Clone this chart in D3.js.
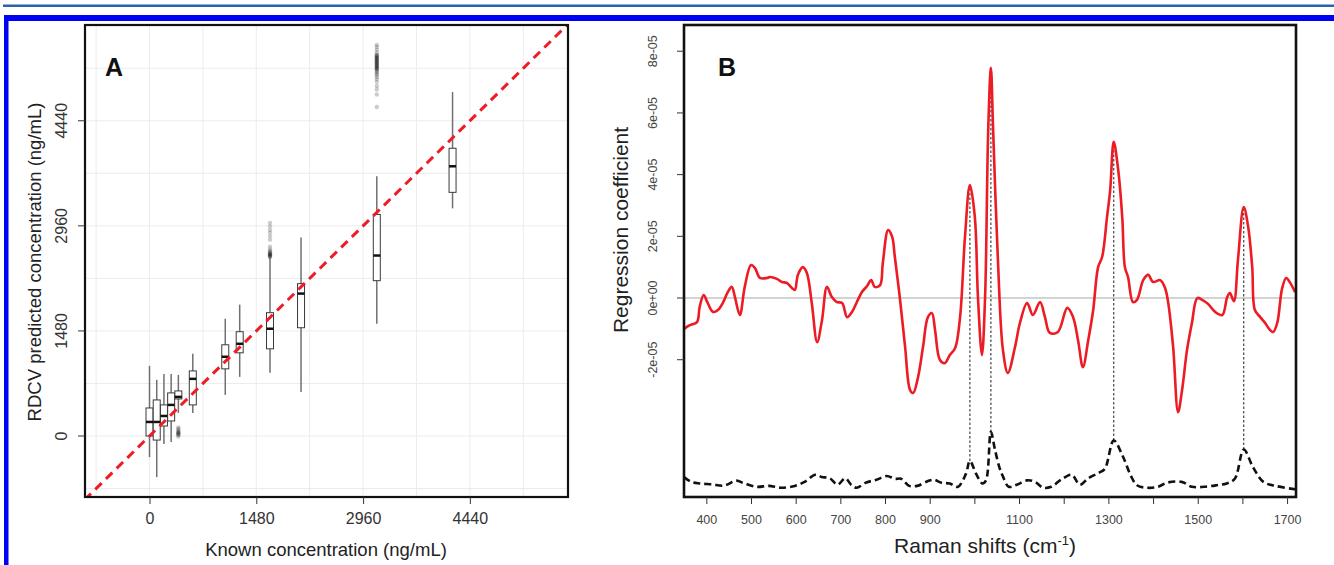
<!DOCTYPE html>
<html><head><meta charset="utf-8">
<script src="https://cdn.jsdelivr.net/npm/d3@7"></script>
<style>
body{margin:0;background:#fff}
svg{display:block;font-family:"Liberation Sans",Arial,Helvetica,sans-serif}
</style>
</head><body>
<svg id="fig" width="1334" height="565"></svg>
<script>
// ---------- Panel A: RDCV predictions per known concentration (ng/mL) ----------
const knownConc   = [0, 100, 200, 300, 400, 600, 1050, 1250, 1670, 2100, 3150, 4200];
const whiskerLow  = [-297, -579, -113, -85, 325, 325, 579, 833, 890, 621, 1582, 3206];
const quartile1   = [0, -57, 141, 212, 522, 438, 946, 1172, 1228, 1525, 2188, 3432];
const medianPred  = [198, 198, 282, 438, 551, 805, 1116, 1299, 1511, 2006, 2542, 3799];
const quartile3   = [395, 508, 438, 607, 635, 917, 1285, 1469, 1737, 2146, 3121, 4053];
const whiskerHigh = [988, 791, 875, 875, 861, 1158, 1652, 1850, 2511, 2796, 3657, 4844];
// outlying predictions, grouped by the known concentration they belong to
const outliers400  = [122, 102, 83, 63, 53, 43, 34, 24, 14, -6];
const outliers1670 = [3002, 2953, 2904, 2865, 2816, 2766, 2668, 2629, 2609, 2590, 2580, 2570, 2560, 2550, 2545, 2540, 2530, 2521];
const outliers3150 = [5509, 5479, 5440, 5401, 5370, 5362, 5350, 5342, 5330, 5322, 5310, 5303, 5290, 5283, 5270, 5263, 5250, 5244, 5230, 5224, 5210, 5204, 5190, 5185, 5170, 5165, 5145, 5126, 5106, 5086, 5057, 5027, 4988, 4929, 4880, 4811, 4634];
const axisTicksA = [0, 1480, 2960, 4440];
const gridStepA = 740;

// ---------- Panel B: regression coefficients vs Raman shift ----------
// coefficient values are in units of 1e-05
const coefShift = [350,363,379,385,394,403,415,426,437,448,457,464,475,486,500,509,520,536,542,558,569,580,592,598,605,616,625,636,648,659,670,681,692,704,715,726,737,748,760,769,777,789,795,807,816,822,833,845,856,863,874,885,896,905,912,923,934,945,957,968,979,990,1001,1008,1017,1024,1031,1037,1042,1053,1064,1075,1091,1102,1118,1131,1147,1158,1169,1187,1208,1221,1232,1243,1255,1266,1277,1286,1297,1304,1312,1322,1331,1337,1344,1355,1364,1378,1389,1400,1416,1427,1434,1445,1456,1465,1476,1487,1499,1510,1523,1539,1555,1566,1572,1581,1590,1603,1613,1622,1628,1640,1651,1662,1669,1678,1689,1698,1707,1718];
const coefValue = [-1.00,-0.88,-0.78,-0.29,0.10,-0.16,-0.45,-0.39,-0.16,0.19,0.36,0.03,-0.55,0.36,1.07,0.97,0.65,0.65,0.68,0.62,0.52,0.49,0.32,0.26,0.75,1.00,0.81,-0.16,-1.43,-0.71,0.36,0.03,-0.13,-0.16,-0.62,-0.45,-0.13,0.19,0.39,0.58,0.36,0.42,1.13,2.20,1.98,1.33,0.03,-1.59,-2.98,-3.08,-2.56,-1.59,-0.62,-0.49,-1.04,-2.01,-2.11,-1.85,-1.62,-0.62,1.98,3.66,2.63,0.03,-1.85,0.03,5.45,7.46,5.45,1.13,-1.69,-2.43,-1.59,-0.81,-0.16,-0.55,-0.13,-0.62,-1.13,-1.10,-0.32,-0.62,-1.36,-2.24,-1.36,-0.39,1.00,1.33,2.63,3.50,5.06,4.15,2.63,1.00,0.68,-0.13,-0.06,0.58,0.75,0.52,0.58,0.32,-0.16,-1.59,-3.70,-2.98,-1.69,-0.81,0.00,-0.06,-0.19,-0.45,-0.55,0.03,0.16,-0.10,1.23,2.95,2.30,1.00,-0.39,-0.62,-0.81,-1.04,-1.10,-0.81,0.32,0.65,0.49,0.19];
// reference Raman spectrum, scaled into the lower part of the same axis
const refShift = [350,365,385,412,440,467,485,513,540,567,598,620,644,658,676,694,711,724,736,758,781,804,822,836,854,872,895,909,927,945,963,981,990,1004,1018,1026,1037,1046,1056,1063,1077,1095,1118,1136,1154,1172,1195,1218,1236,1255,1278,1292,1312,1332,1350,1364,1387,1410,1433,1464,1487,1514,1542,1565,1583,1603,1624,1647,1674,1718];
const refValue = [-5.80,-5.95,-6.01,-6.04,-6.08,-5.92,-6.01,-6.12,-6.09,-6.15,-6.09,-5.96,-5.73,-5.80,-5.84,-6.05,-5.84,-6.05,-6.15,-5.98,-5.89,-5.77,-5.86,-5.86,-6.09,-6.09,-5.94,-5.89,-5.99,-6.01,-6.12,-5.70,-5.28,-5.70,-6.01,-5.91,-4.34,-4.91,-5.49,-5.75,-6.12,-6.05,-5.91,-5.96,-6.15,-6.12,-5.88,-5.73,-6.05,-5.84,-5.67,-5.54,-4.62,-5.12,-5.75,-6.07,-6.15,-6.12,-5.98,-5.96,-6.12,-6.12,-6.07,-6.01,-5.86,-4.91,-5.49,-5.96,-6.09,-6.20];
const peakShift = [990, 1037, 1312, 1603];
const xTicksB = [400,500,600,700,800,900,1000,1100,1200,1300,1400,1500,1600,1700];
const xLabelsB = [400,500,600,700,800,900,1100,1300,1500,1700];
const yTicksB = [-2, 0, 2, 4, 6, 8];

const svg = d3.select("#fig");

// page frame bars
svg.append("rect").attr("x", 3).attr("y", 4.5).attr("width", 1331).attr("height", 2.5).attr("fill", "#2a63a8");
svg.append("rect").attr("x", 4).attr("y", 15).attr("width", 1330).attr("height", 6).attr("fill", "#0000f5");
svg.append("rect").attr("x", 4).attr("y", 15).attr("width", 4.5).attr("height", 550).attr("fill", "#0000f5");

// =================== Panel A ===================
const A = {left: 85, right: 568, top: 25, bottom: 497};
const xA = d3.scaleLinear().domain([-894, 5800]).range([A.left, A.right]);
const yA = d3.scaleLinear().domain([-859, 5789]).range([A.bottom, A.top]);
const gA = svg.append("g");

svg.append("clipPath").attr("id", "clipA").append("rect")
  .attr("x", A.left).attr("y", A.top).attr("width", A.right - A.left).attr("height", A.bottom - A.top);

// light grid every 740 ng/mL
const gridA = d3.range(-740, 6000, gridStepA);
gA.append("g").selectAll("line").data(gridA.filter(v => xA(v) > A.left && xA(v) < A.right)).join("line")
  .attr("x1", d => xA(d)).attr("x2", d => xA(d)).attr("y1", A.top).attr("y2", A.bottom)
  .attr("stroke", "#ececec").attr("stroke-width", 1);
gA.append("g").selectAll("line").data(gridA.filter(v => yA(v) < A.bottom && yA(v) > A.top)).join("line")
  .attr("y1", d => yA(d)).attr("y2", d => yA(d)).attr("x1", A.left).attr("x2", A.right)
  .attr("stroke", "#ececec").attr("stroke-width", 1);

// boxplots
const boxW = 7;
const boxes = knownConc.map((c, i) => ({c, lo: whiskerLow[i], q1: quartile1[i], med: medianPred[i], q3: quartile3[i], hi: whiskerHigh[i]}));
const gBox = gA.append("g");
gBox.selectAll("line.wh").data(boxes).join("line").attr("class", "wh")
  .attr("x1", d => xA(d.c)).attr("x2", d => xA(d.c))
  .attr("y1", d => yA(d.hi)).attr("y2", d => yA(d.lo))
  .attr("stroke", "#707070").attr("stroke-width", 1.5);
gBox.selectAll("rect").data(boxes).join("rect")
  .attr("x", d => xA(d.c) - boxW / 2).attr("width", boxW)
  .attr("y", d => yA(d.q3)).attr("height", d => yA(d.q1) - yA(d.q3))
  .attr("fill", "#fff").attr("stroke", "#3a3a3a").attr("stroke-width", 1);
gBox.selectAll("line.md").data(boxes).join("line").attr("class", "md")
  .attr("x1", d => xA(d.c) - boxW / 2).attr("x2", d => xA(d.c) + boxW / 2)
  .attr("y1", d => yA(d.med)).attr("y2", d => yA(d.med))
  .attr("stroke", "#111").attr("stroke-width", 2.5);

// outliers
const outPts = [
  ...outliers400.map(v => ({c: 400, v})),
  ...outliers1670.map(v => ({c: 1670, v})),
  ...outliers3150.map(v => ({c: 3150, v}))
];
gA.append("g").selectAll("circle").data(outPts).join("circle")
  .attr("cx", d => xA(d.c)).attr("cy", d => yA(d.v)).attr("r", 2.2)
  .attr("fill", "#000").attr("fill-opacity", 0.2);

// identity line
gA.append("line").attr("clip-path", "url(#clipA)")
  .attr("x1", xA(-900)).attr("y1", yA(-900)).attr("x2", xA(6000)).attr("y2", yA(6000))
  .attr("stroke", "#ee1c25").attr("stroke-width", 3).attr("stroke-dasharray", "9,6");

// frame
gA.append("rect").attr("x", A.left).attr("y", A.top).attr("width", A.right - A.left).attr("height", A.bottom - A.top)
  .attr("fill", "none").attr("stroke", "#111").attr("stroke-width", 2.2);

// axes
const axAx = gA.append("g").attr("transform", `translate(0,${A.bottom})`)
  .call(d3.axisBottom(xA).tickValues(axisTicksA).tickSize(7).tickPadding(9).tickFormat(d3.format("d")));
axAx.select(".domain").remove();
axAx.selectAll("line").attr("stroke", "#333");
axAx.selectAll("text").attr("font-size", 16).attr("fill", "#333").attr("font-family", null);

const ayA = gA.append("g").attr("transform", `translate(${A.left},0)`)
  .call(d3.axisLeft(yA).tickValues(axisTicksA).tickSize(7).tickFormat(d3.format("d")));
ayA.select(".domain").remove();
ayA.selectAll("line").attr("stroke", "#333");
ayA.selectAll(".tick").attr("transform", null);
ayA.selectAll(".tick line").attr("transform", d => `translate(0,${yA(d)})`);
ayA.selectAll("text").attr("font-size", 16).attr("fill", "#333").attr("font-family", null)
  .attr("text-anchor", "middle").attr("dy", null).attr("dominant-baseline", "central")
  .attr("transform", "rotate(-90)")
  .each(function(d) { d3.select(this).attr("x", -yA(d)).attr("y", -24); });

gA.append("text").attr("x", 326).attr("y", 556).attr("text-anchor", "middle")
  .attr("font-size", 18.5).attr("fill", "#222").text("Known concentration (ng/mL)");
gA.append("text").attr("transform", "translate(34,262) rotate(-90)").attr("text-anchor", "middle")
  .attr("dominant-baseline", "central").attr("font-size", 18.5).attr("fill", "#222")
  .text("RDCV predicted concentration (ng/mL)");
gA.append("text").attr("x", 105).attr("y", 76).attr("font-size", 25).attr("font-weight", "bold")
  .attr("fill", "#111").text("A");

// =================== Panel B ===================
const B = {left: 684, right: 1296, top: 25, bottom: 497};
const xB = d3.scaleLinear().domain([350, 1720]).range([B.left, B.right]);
const yB = d3.scaleLinear().domain([-6.45, 8.85]).range([B.bottom, B.top]);
const gB = svg.append("g");

svg.append("clipPath").attr("id", "clipB").append("rect")
  .attr("x", B.left).attr("y", B.top).attr("width", B.right - B.left).attr("height", B.bottom - B.top);

// zero reference line
gB.append("line").attr("x1", B.left).attr("x2", B.right).attr("y1", yB(0)).attr("y2", yB(0))
  .attr("stroke", "#c4c4c4").attr("stroke-width", 1.3);

const coefPts = coefShift.map((s, i) => [s, coefValue[i]]);
const refPts = refShift.map((s, i) => [s, refValue[i]]);
const lineB = d3.line().x(d => xB(d[0])).y(d => yB(d[1])).curve(d3.curveCatmullRom.alpha(0.5));

// dotted links between matching peaks
const at = (shifts, vals, s) => vals[d3.minIndex(shifts, t => Math.abs(t - s))];
gB.append("g").selectAll("line").data(peakShift).join("line")
  .attr("x1", d => xB(d)).attr("x2", d => xB(d))
  .attr("y1", d => yB(at(refShift, refValue, d))).attr("y2", d => yB(at(coefShift, coefValue, d)))
  .attr("stroke", "#333").attr("stroke-width", 1.1).attr("stroke-dasharray", "2.5,2");

gB.append("path").attr("clip-path", "url(#clipB)").datum(refPts).attr("d", lineB)
  .attr("fill", "none").attr("stroke", "#111").attr("stroke-width", 2.6).attr("stroke-dasharray", "7,4");
gB.append("path").attr("clip-path", "url(#clipB)").datum(coefPts).attr("d", lineB)
  .attr("fill", "none").attr("stroke", "#ec1b24").attr("stroke-width", 2.6).attr("stroke-linejoin", "round");

gB.append("rect").attr("x", B.left).attr("y", B.top).attr("width", B.right - B.left).attr("height", B.bottom - B.top)
  .attr("fill", "none").attr("stroke", "#111").attr("stroke-width", 2.6);

const axBx = gB.append("g").attr("transform", `translate(0,${B.bottom})`)
  .call(d3.axisBottom(xB).tickValues(xTicksB).tickSize(7).tickPadding(11)
    .tickFormat(d => xLabelsB.includes(d) ? d : ""));
axBx.select(".domain").remove();
axBx.selectAll("line").attr("stroke", "#333");
axBx.selectAll("text").attr("font-size", 12.5).attr("fill", "#444").attr("font-family", null);

const ayB = gB.append("g").attr("transform", `translate(${B.left},0)`)
  .call(d3.axisLeft(yB).tickValues(yTicksB).tickSize(7)
    .tickFormat(d => d === 0 ? "0e+00" : (d < 0 ? "-" : "") + Math.abs(d) + "e-05"));
ayB.select(".domain").remove();
ayB.selectAll("line").attr("stroke", "#333");
ayB.selectAll(".tick").attr("transform", null);
ayB.selectAll(".tick line").attr("transform", d => `translate(0,${yB(d)})`);
ayB.selectAll("text").attr("font-size", 12.5).attr("fill", "#444").attr("font-family", null)
  .attr("text-anchor", "middle").attr("dy", null).attr("dominant-baseline", "central")
  .attr("transform", "rotate(-90)")
  .each(function(d) { d3.select(this).attr("x", -yB(d)).attr("y", -31); });

const xt = gB.append("text").attr("x", 985).attr("y", 553).attr("text-anchor", "middle")
  .attr("font-size", 21).attr("fill", "#222");
xt.append("tspan").text("Raman shifts (cm");
xt.append("tspan").attr("font-size", 13).attr("dy", -8).text("-1");
xt.append("tspan").attr("dy", 8).text(")");
gB.append("text").attr("transform", "translate(620,230) rotate(-90)").attr("text-anchor", "middle")
  .attr("dominant-baseline", "central").attr("font-size", 21).attr("fill", "#222")
  .text("Regression coefficient");
gB.append("text").attr("x", 718).attr("y", 76).attr("font-size", 25).attr("font-weight", "bold")
  .attr("fill", "#111").text("B");
</script>
</body></html>
